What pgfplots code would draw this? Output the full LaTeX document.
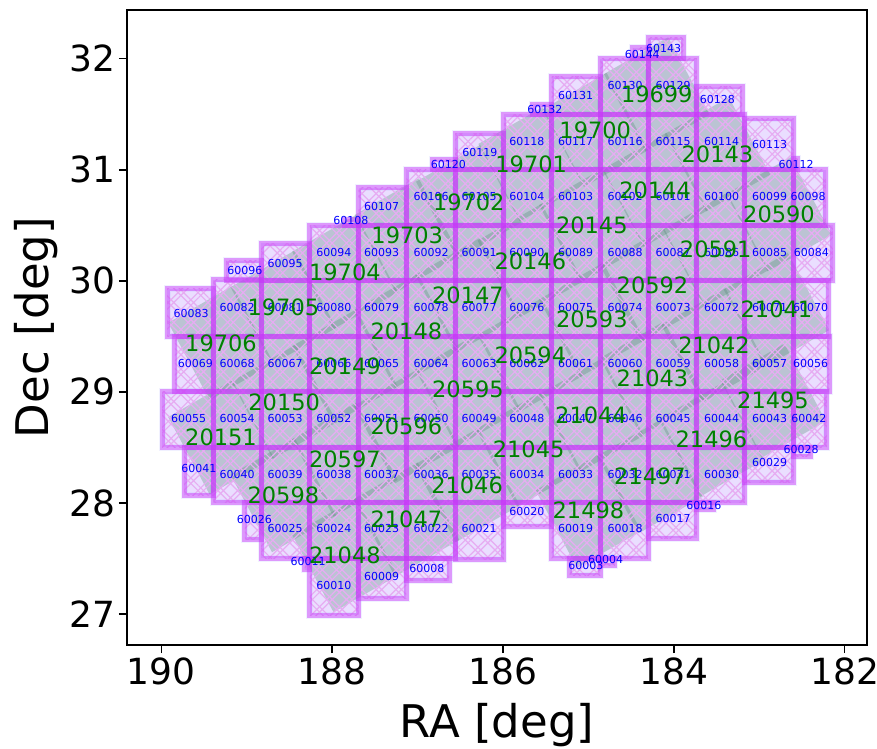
\documentclass[border=0pt]{standalone}
\usepackage{fontspec}
\setmainfont{DejaVu Sans}
\usepackage{pgfplots}
\pgfplotsset{compat=1.18}
\usetikzlibrary{patterns.meta}
\definecolor{cellfill}{RGB}{234,222,255}
\definecolor{hatchc}{RGB}{230,172,242}
\definecolor{fringe}{RGB}{185,185,255}
\definecolor{edgec}{RGB}{200,55,250}
\definecolor{fieldc}{RGB}{80,135,112}
\definecolor{mplgreen}{RGB}{0,128,0}
\newcommand{\allcells}{%
\cell{184.30}{183.89}{32}{32.19}\cell{184.48}{184.30}{32}{32.10}%
\cell{185.65}{185.43}{31.5}{31.59}\cell{185.43}{184.86}{31.5}{31.84}\cell{184.86}{184.30}{31.5}{32}\cell{184.30}{183.73}{31.5}{32}\cell{183.73}{183.20}{31.5}{31.75}%
\cell{186.83}{186.56}{31}{31.09}\cell{186.56}{185.99}{31}{31.33}\cell{185.99}{185.43}{31}{31.5}\cell{185.43}{184.86}{31}{31.5}\cell{184.86}{184.30}{31}{31.5}\cell{184.30}{183.73}{31}{31.5}\cell{183.73}{183.17}{31}{31.5}\cell{183.17}{182.60}{31}{31.46}\cell{182.60}{182.55}{31}{31.10}%
\cell{187.85}{187.69}{30.5}{30.55}\cell{187.69}{187.13}{30.5}{30.84}\cell{187.13}{186.56}{30.5}{31}\cell{186.56}{185.99}{30.5}{31}\cell{185.99}{185.43}{30.5}{31}\cell{185.43}{184.86}{30.5}{31}\cell{184.86}{184.30}{30.5}{31}\cell{184.30}{183.73}{30.5}{31}\cell{183.73}{183.17}{30.5}{31}\cell{183.17}{182.60}{30.5}{31}\cell{182.60}{182.22}{30.5}{31}%
\cell{189.24}{188.83}{30}{30.18}\cell{188.83}{188.26}{30}{30.34}\cell{188.26}{187.69}{30}{30.5}\cell{187.69}{187.13}{30}{30.5}\cell{187.13}{186.56}{30}{30.5}\cell{186.56}{185.99}{30}{30.5}\cell{185.99}{185.43}{30}{30.5}\cell{185.43}{184.86}{30}{30.5}\cell{184.86}{184.30}{30}{30.5}\cell{184.30}{183.73}{30}{30.5}\cell{183.73}{183.17}{30}{30.5}\cell{183.17}{182.60}{30}{30.5}\cell{182.60}{182.14}{30}{30.5}%
\cell{189.93}{189.39}{29.5}{29.93}\cell{189.39}{188.83}{29.5}{30.01}\cell{188.83}{188.26}{29.5}{30}\cell{188.26}{187.69}{29.5}{30}\cell{187.69}{187.13}{29.5}{30}\cell{187.13}{186.56}{29.5}{30}\cell{186.56}{185.99}{29.5}{30}\cell{185.99}{185.43}{29.5}{30}\cell{185.43}{184.86}{29.5}{30}\cell{184.86}{184.30}{29.5}{30}\cell{184.30}{183.73}{29.5}{30}\cell{183.73}{183.17}{29.5}{30}\cell{183.17}{182.60}{29.5}{30}\cell{182.60}{182.19}{29.5}{30}%
\cell{189.84}{189.39}{29}{29.5}\cell{189.39}{188.83}{29}{29.5}\cell{188.83}{188.26}{29}{29.5}\cell{188.26}{187.69}{29}{29.5}\cell{187.69}{187.13}{29}{29.5}\cell{187.13}{186.56}{29}{29.5}\cell{186.56}{185.99}{29}{29.5}\cell{185.99}{185.43}{29}{29.5}\cell{185.43}{184.86}{29}{29.5}\cell{184.86}{184.30}{29}{29.5}\cell{184.30}{183.73}{29}{29.5}\cell{183.73}{183.17}{29}{29.5}\cell{183.17}{182.60}{29}{29.5}\cell{182.60}{182.18}{29}{29.5}%
\cell{189.99}{189.39}{28.5}{29}\cell{189.39}{188.83}{28.5}{29}\cell{188.83}{188.26}{28.5}{29}\cell{188.26}{187.69}{28.5}{29}\cell{187.69}{187.13}{28.5}{29}\cell{187.13}{186.56}{28.5}{29}\cell{186.56}{185.99}{28.5}{29}\cell{185.99}{185.43}{28.5}{29}\cell{185.43}{184.86}{28.5}{29}\cell{184.86}{184.30}{28.5}{29}\cell{184.30}{183.73}{28.5}{29}\cell{183.73}{183.17}{28.5}{29}\cell{183.17}{182.60}{28.5}{29}\cell{182.60}{182.21}{28.5}{29}%
\cell{189.73}{189.39}{28.07}{28.5}\cell{189.39}{188.83}{28}{28.5}\cell{188.83}{188.26}{28}{28.5}\cell{188.26}{187.69}{28}{28.5}\cell{187.69}{187.13}{28}{28.5}\cell{187.13}{186.56}{28}{28.5}\cell{186.56}{185.99}{28}{28.5}\cell{185.99}{185.43}{28}{28.5}\cell{185.43}{184.86}{28}{28.5}\cell{184.86}{184.30}{28}{28.5}\cell{184.30}{183.73}{28}{28.5}\cell{183.73}{183.17}{28}{28.5}\cell{183.17}{182.60}{28.18}{28.5}\cell{182.60}{182.40}{28.42}{28.5}%
\cell{189.02}{188.83}{27.67}{28}\cell{188.83}{188.26}{27.5}{28}\cell{188.26}{187.69}{27.5}{28}\cell{187.69}{187.13}{27.5}{28}\cell{187.13}{186.56}{27.5}{28}\cell{186.56}{185.99}{27.49}{28}\cell{185.99}{185.43}{27.79}{28}\cell{185.43}{184.86}{27.5}{28}\cell{184.86}{184.30}{27.5}{28}\cell{184.30}{183.73}{27.68}{28}\cell{183.73}{183.54}{27.94}{28}%
\cell{188.32}{188.26}{27.40}{27.5}\cell{188.26}{187.69}{26.99}{27.5}\cell{187.69}{187.13}{27.14}{27.5}\cell{187.13}{186.63}{27.30}{27.5}\cell{185.22}{184.86}{27.35}{27.5}\cell{184.86}{184.69}{27.44}{27.5}%
}
\newcommand{\field}[2]{%
\pgfmathsetmacro\xa{#1+0.133}\pgfmathsetmacro\ya{#2-0.514}%
\pgfmathsetmacro\xb{#1-0.618}\pgfmathsetmacro\yb{#2-0.183}%
\pgfmathsetmacro\xc{#1-0.133}\pgfmathsetmacro\yc{#2+0.514}%
\pgfmathsetmacro\xd{#1+0.618}\pgfmathsetmacro\yd{#2+0.183}%
\addplot[draw=none,fill=fieldc,fill opacity=0.30] coordinates {(\xa,\ya)(\xb,\yb)(\xc,\yc)(\xd,\yd)} -- cycle;%
}
\begin{document}
\begin{tikzpicture}
\useasboundingbox (-127pt,-103pt) rectangle (750pt,645pt);
\begin{axis}[
  scale only axis, width=740pt, height=635pt,
  x dir=reverse, xmin=181.74, xmax=190.4, ymin=26.72, ymax=32.44,
  xtick={182,184,186,188,190}, ytick={27,28,29,30,31,32},
  xtick pos=bottom, ytick pos=left, tick align=outside,
  tick style={black,line width=1.3pt}, major tick length=8pt,
  axis line style={line width=1.5pt,black},
  /pgf/number format/assume math mode=true,
  /pgf/number format/1000 sep={},
  tick label style={font=\fontsize{36}{36}\selectfont},
  xticklabel style={yshift=-1pt},
  xlabel={RA [deg]}, ylabel={Dec [deg]},
  label style={font=\fontsize{45}{45}\selectfont},
  xlabel style={at={(axis description cs:0.5,-0.087)},anchor=north},
  ylabel style={at={(axis description cs:-0.088,0.5)},anchor=south},
  clip=true,
]
% cell base fill
\def\cell#1#2#3#4{\addplot[draw=fringe,draw opacity=0.2,line width=7pt,fill=cellfill] coordinates {(#1,#3)(#2,#3)(#2,#4)(#1,#4)} -- cycle;}
\allcells
% rotated fields
\field{184.20}{31.68}\field{184.92}{31.36}\field{185.67}{31.05}\field{186.40}{30.71}\field{187.12}{30.41}\field{187.85}{30.08}\field{188.57}{29.76}\field{189.30}{29.44}
\field{183.49}{31.14}\field{184.22}{30.82}\field{184.96}{30.50}\field{185.68}{30.18}\field{186.41}{29.87}\field{187.13}{29.55}\field{187.85}{29.23}\field{188.56}{28.91}\field{189.30}{28.59}
\field{182.77}{30.60}\field{183.51}{30.28}\field{184.25}{29.96}\field{184.96}{29.65}\field{185.68}{29.33}\field{186.41}{29.02}\field{187.13}{28.69}\field{187.85}{28.39}\field{188.57}{28.07}
\field{182.80}{29.74}\field{183.53}{29.42}\field{184.25}{29.12}\field{184.97}{28.79}\field{185.70}{28.48}\field{186.42}{28.16}\field{187.13}{27.85}\field{187.85}{27.53}
\field{182.84}{28.92}\field{183.56}{28.57}\field{184.28}{28.24}\field{185.00}{27.93}
% hatching, paired lines
\def\cell#1#2#3#4{\addplot[draw=none,pattern={Hatch[angle=45,distance=14pt,line width=1.2pt]},pattern color=hatchc] coordinates {(#1,#3)(#2,#3)(#2,#4)(#1,#4)} -- cycle;}
\allcells
\def\cell#1#2#3#4{\addplot[draw=none,pattern={Hatch[angle=45,distance=14pt,xshift=5.5pt,line width=1.2pt]},pattern color=hatchc] coordinates {(#1,#3)(#2,#3)(#2,#4)(#1,#4)} -- cycle;}
\allcells
% cell edges
\def\cell#1#2#3#4{\addplot[draw=edgec,draw opacity=0.48,line width=5pt,line join=miter] coordinates {(#1,#3)(#2,#3)(#2,#4)(#1,#4)} -- cycle;}
\allcells
% tract labels
\addplot[only marks,mark=none,point meta=explicit symbolic,nodes near coords,
  nodes near coords style={anchor=center,inner sep=0pt,text=blue,font=\fontsize{11}{11}\selectfont},clip=false]
 table[meta=label,row sep=\\] {
x y label\\
189.65 29.71 60083\\ 189.11 29.76 60082\\ 188.55 29.76 60081\\ 187.98 29.76 60080\\ 187.42 29.76 60079\\ 186.84 29.76 60078\\ 186.28 29.76 60077\\ 185.72 29.76 60076\\ 185.15 29.76 60075\\ 184.57 29.76 60074\\ 184.01 29.76 60073\\ 183.44 29.76 60072\\ 182.88 29.76 60071\\ 182.40 29.76 60070\\
189.60 29.26 60069\\ 189.11 29.26 60068\\ 188.55 29.26 60067\\ 187.98 29.26 60066\\ 187.42 29.26 60065\\ 186.84 29.26 60064\\ 186.28 29.26 60063\\ 185.72 29.26 60062\\ 185.15 29.26 60061\\ 184.57 29.26 60060\\ 184.01 29.26 60059\\ 183.44 29.26 60058\\ 182.88 29.26 60057\\ 182.40 29.26 60056\\
189.68 28.76 60055\\ 189.11 28.76 60054\\ 188.55 28.76 60053\\ 187.98 28.76 60052\\ 187.42 28.76 60051\\ 186.84 28.76 60050\\ 186.28 28.76 60049\\ 185.72 28.76 60048\\ 185.15 28.76 60047\\ 184.57 28.76 60046\\ 184.01 28.76 60045\\ 183.44 28.76 60044\\ 182.88 28.76 60043\\ 182.42 28.76 60042\\
189.56 28.31 60041\\ 189.11 28.26 60040\\ 188.55 28.26 60039\\ 187.98 28.26 60038\\ 187.42 28.26 60037\\ 186.84 28.26 60036\\ 186.28 28.26 60035\\ 185.72 28.26 60034\\ 185.15 28.26 60033\\ 184.57 28.26 60032\\ 184.01 28.26 60031\\ 183.44 28.26 60030\\ 182.88 28.36 60029\\ 182.51 28.48 60028\\
188.91 27.85 60026\\ 188.55 27.77 60025\\ 187.98 27.77 60024\\ 187.42 27.77 60023\\ 186.84 27.77 60022\\ 186.28 27.77 60021\\ 185.72 27.92 60020\\ 185.15 27.77 60019\\ 184.57 27.77 60018\\ 184.01 27.86 60017\\ 183.65 27.98 60016\\
188.28 27.47 60011\\ 187.98 27.26 60010\\ 187.42 27.34 60009\\ 186.89 27.41 60008\\ 184.80 27.49 60004\\ 185.03 27.44 60003\\
189.02 30.09 60096\\ 188.55 30.16 60095\\ 187.98 30.26 60094\\ 187.42 30.26 60093\\ 186.84 30.26 60092\\ 186.28 30.26 60091\\ 185.72 30.26 60090\\ 185.15 30.26 60089\\ 184.57 30.26 60088\\ 184.01 30.26 60087\\ 183.44 30.26 60086\\ 182.88 30.26 60085\\ 182.39 30.26 60084\\
187.78 30.54 60108\\ 187.42 30.67 60107\\ 186.84 30.76 60106\\ 186.28 30.76 60105\\ 185.72 30.76 60104\\ 185.15 30.76 60103\\ 184.57 30.76 60102\\ 184.01 30.76 60101\\ 183.44 30.76 60100\\ 182.88 30.76 60099\\ 182.43 30.76 60098\\
186.64 31.05 60120\\ 186.27 31.16 60119\\ 185.72 31.26 60118\\ 185.15 31.26 60117\\ 184.57 31.26 60116\\ 184.01 31.26 60115\\ 183.44 31.26 60114\\ 182.88 31.23 60113\\ 182.57 31.05 60112\\
185.51 31.54 60132\\ 185.15 31.67 60131\\ 184.57 31.76 60130\\ 184.01 31.76 60129\\ 183.49 31.63 60128\\ 184.37 32.04 60144\\ 184.12 32.09 60143\\
};
% field labels
\addplot[only marks,mark=none,point meta=explicit symbolic,nodes near coords,
  nodes near coords style={anchor=center,inner sep=0pt,text=mplgreen,font=\fontsize{22.5}{23}\selectfont},clip=false]
 table[meta=label,row sep=\\] {
x y label\\
184.20 31.68 19699\\ 184.92 31.36 19700\\ 185.67 31.05 19701\\ 186.40 30.71 19702\\ 187.12 30.41 19703\\ 187.85 30.08 19704\\ 188.57 29.76 19705\\ 189.30 29.44 19706\\
183.49 31.14 20143\\ 184.22 30.82 20144\\ 184.96 30.50 20145\\ 185.68 30.18 20146\\ 186.41 29.87 20147\\ 187.13 29.55 20148\\ 187.85 29.23 20149\\ 188.56 28.91 20150\\ 189.30 28.59 20151\\
182.77 30.60 20590\\ 183.51 30.28 20591\\ 184.25 29.96 20592\\ 184.96 29.65 20593\\ 185.68 29.33 20594\\ 186.41 29.02 20595\\ 187.13 28.69 20596\\ 187.85 28.39 20597\\ 188.57 28.07 20598\\
182.80 29.74 21041\\ 183.53 29.42 21042\\ 184.25 29.12 21043\\ 184.97 28.79 21044\\ 185.70 28.48 21045\\ 186.42 28.16 21046\\ 187.13 27.85 21047\\ 187.85 27.53 21048\\
182.84 28.92 21495\\ 183.56 28.57 21496\\ 184.28 28.24 21497\\ 185.00 27.93 21498\\
};
\end{axis}
\end{tikzpicture}
\end{document}
